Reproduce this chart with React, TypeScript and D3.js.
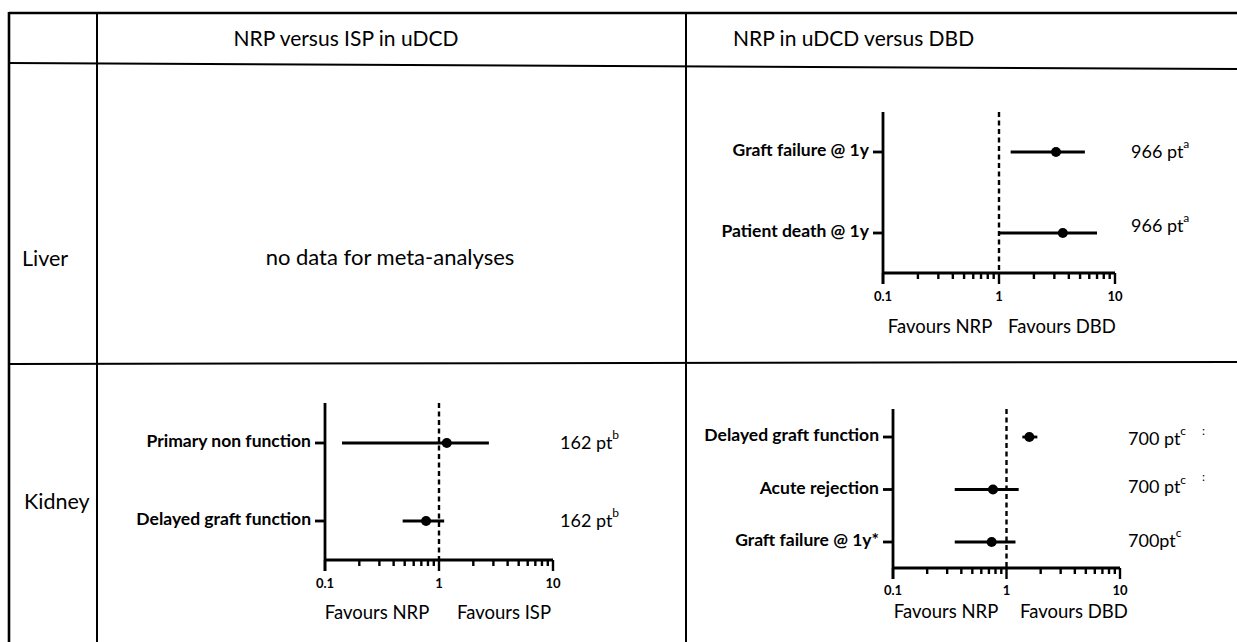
import React from "react";
import * as d3 from "d3";

// ---------- DATA ----------
const headerLabels = ["NRP versus ISP in uDCD", "NRP in uDCD versus DBD"];
const organLabels = ["Liver", "Kidney"];
const noDataText = "no data for meta-analyses";
const tickLabels = ["0.1", "1", "10"];

const liverOutcomes = ["Graft failure @ 1y", "Patient death @ 1y"];
const liverEstimate = [3.1, 3.55];
const liverLower = [1.26, 1.0];
const liverUpper = [5.5, 7.0];
const liverN = ["966 pt", "966 pt"];
const liverSup = ["a", "a"];

const kidneyIspOutcomes = ["Primary non function", "Delayed graft function"];
const kidneyIspEstimate = [1.17, 0.77];
const kidneyIspLower = [0.141, 0.48];
const kidneyIspUpper = [2.74, 1.11];
const kidneyIspN = ["162 pt", "162 pt"];
const kidneyIspSup = ["b", "b"];

const kidneyDbdOutcomes = ["Delayed graft function", "Acute rejection", "Graft failure @ 1y*"];
const kidneyDbdEstimate = [1.59, 0.76, 0.74];
const kidneyDbdLower = [1.38, 0.35, 0.35];
const kidneyDbdUpper = [1.87, 1.28, 1.2];
const kidneyDbdN = ["700 pt", "700 pt", "700pt"];
const kidneyDbdSup = ["c", "c", "c"];

const favoursLeft = ["Favours NRP", "Favours NRP", "Favours NRP"];
const favoursRight = ["Favours DBD", "Favours ISP", "Favours DBD"];

// ---------- LAYOUT ----------
const W = 1237;
const H = 642;
const FONT = "Lato, 'Open Sans', sans-serif";

interface Panel {
  outcomes: string[];
  est: number[];
  lo: number[];
  hi: number[];
  n: string[];
  sup: string[];
  left: string;
  right: string;
  x0: number;
  x1: number;
  top: number;
  bottom: number;
  rowTop: number;
  rowBottom: number;
  annX: number;
  annDy: number[];
  tickLabelY: number;
  favY: number;
  favLeftX: number;
  favRightX: number;
}

const panels: Panel[] = [
  {
    outcomes: liverOutcomes, est: liverEstimate, lo: liverLower, hi: liverUpper,
    n: liverN, sup: liverSup, left: favoursLeft[0], right: favoursRight[0],
    x0: 883, x1: 1115, top: 112, bottom: 273, rowTop: 152, rowBottom: 233,
    annX: 1131, annDy: [1, -6], tickLabelY: 298, favY: 328, favLeftX: 940, favRightX: 1062,
  },
  {
    outcomes: kidneyIspOutcomes, est: kidneyIspEstimate, lo: kidneyIspLower, hi: kidneyIspUpper,
    n: kidneyIspN, sup: kidneyIspSup, left: favoursLeft[1], right: favoursRight[1],
    x0: 325, x1: 553, top: 403, bottom: 560, rowTop: 443, rowBottom: 521,
    annX: 560, annDy: [1, 1], tickLabelY: 585, favY: 614, favLeftX: 377, favRightX: 504,
  },
  {
    outcomes: kidneyDbdOutcomes, est: kidneyDbdEstimate, lo: kidneyDbdLower, hi: kidneyDbdUpper,
    n: kidneyDbdN, sup: kidneyDbdSup, left: favoursLeft[2], right: favoursRight[2],
    x0: 893, x1: 1120, top: 409, bottom: 568, rowTop: 437, rowBottom: 542,
    annX: 1128, annDy: [3, -1, 0], tickLabelY: 592, favY: 613, favLeftX: 946, favRightX: 1074,
  },
];

function ForestPanel({ p }: { p: Panel }) {
  const x = d3.scaleLog().domain([0.1, 10]).range([p.x0, p.x1]);
  const y = d3.scalePoint<string>().domain(p.outcomes).range([p.rowTop, p.rowBottom]);
  const ticks = x.ticks();
  const majors = [0.1, 1, 10];
  const isMajor = (t: number) => majors.some((m) => Math.abs(m - t) < 1e-9);
  const sw = 2.8;
  return (
    <g>
      <line x1={x(1)} x2={x(1)} y1={p.top} y2={p.bottom} stroke="#000" strokeWidth={2.4} strokeDasharray="5,3.5" />
      <line x1={p.x0} x2={p.x0} y1={p.top} y2={p.bottom + 11} stroke="#000" strokeWidth={sw} />
      <line x1={p.x0} x2={p.x1} y1={p.bottom} y2={p.bottom} stroke="#000" strokeWidth={sw} />
      {ticks.map((t, i) => (
        <line key={i} x1={x(t)} x2={x(t)} y1={p.bottom} y2={p.bottom + (isMajor(t) ? 11 : 6)} stroke="#000" strokeWidth={2.4} />
      ))}
      {majors.map((m, i) => (
        <text key={i} x={x(m)} y={p.tickLabelY} textAnchor="middle" dominantBaseline="middle"
          fontFamily={FONT} fontWeight={700} fontSize={13} fill="#000">{tickLabels[i]}</text>
      ))}
      <text x={p.favLeftX} y={p.favY} textAnchor="middle" dominantBaseline="middle" fontFamily={FONT} fontSize={18.5} fill="#000">{p.left}</text>
      <text x={p.favRightX} y={p.favY} textAnchor="middle" dominantBaseline="middle" fontFamily={FONT} fontSize={18.5} fill="#000">{p.right}</text>
      {p.outcomes.map((o, i) => {
        const yy = y(o) as number;
        return (
          <g key={o}>
            <line x1={p.x0 - 10} x2={p.x0} y1={yy} y2={yy} stroke="#000" strokeWidth={sw} />
            <text x={p.x0 - 14} y={yy} textAnchor="end" dominantBaseline="middle" fontFamily={FONT}
              fontWeight={700} fontSize={17.5} fill="#000">{o}</text>
            <line x1={x(p.lo[i])} x2={x(p.hi[i])} y1={yy} y2={yy} stroke="#000" strokeWidth={sw} />
            <circle cx={x(p.est[i])} cy={yy} r={5} fill="#000" />
            <text x={p.annX} y={yy + p.annDy[i]} dominantBaseline="middle" fontFamily={FONT} fontSize={18} fill="#000">
              {p.n[i]}
              <tspan fontSize={12} dy={-8}>{p.sup[i]}</tspan>
            </text>
          </g>
        );
      })}
    </g>
  );
}

export default function App() {
  return (
    <svg width={W} height={H} style={{ position: "absolute", left: 0, top: 0, background: "#fff" }}>
      <rect x={0} y={0} width={W} height={H} fill="#fff" />
      <g stroke="#000" fill="none">
        <line x1={9} x2={W} y1={13} y2={13} strokeWidth={2.6} />
        <line x1={9} x2={W} y1={63} y2={69} strokeWidth={2} />
        <line x1={9} x2={W} y1={364} y2={362} strokeWidth={2} />
        <line x1={9} x2={9} y1={12} y2={H} strokeWidth={2.6} />
        <line x1={97} x2={97} y1={13} y2={H} strokeWidth={2} />
        <line x1={686} x2={686} y1={13} y2={H} strokeWidth={2} />
      </g>
      <text x={346} y={41} textAnchor="middle" dominantBaseline="middle" fontFamily={FONT} fontSize={21} fill="#000">{headerLabels[0]}</text>
      <text x={733} y={41} dominantBaseline="middle" fontFamily={FONT} fontSize={21} fill="#000">{headerLabels[1]}</text>
      <text x={22} y={261} dominantBaseline="middle" fontFamily={FONT} fontSize={21.5} fill="#000">{organLabels[0]}</text>
      <text x={24} y={504} dominantBaseline="middle" fontFamily={FONT} fontSize={21.5} fill="#000">{organLabels[1]}</text>
      <text x={390} y={259} textAnchor="middle" dominantBaseline="middle" fontFamily={FONT} fontSize={22} fill="#000">{noDataText}</text>
      {panels.map((p, i) => (
        <ForestPanel key={i} p={p} />
      ))}
      <text x={1202} y={432} dominantBaseline="middle" fontFamily={FONT} fontSize={12} fill="#000">:</text>
      <text x={1202} y={478} dominantBaseline="middle" fontFamily={FONT} fontSize={12} fill="#000">:</text>
    </svg>
  );
}
